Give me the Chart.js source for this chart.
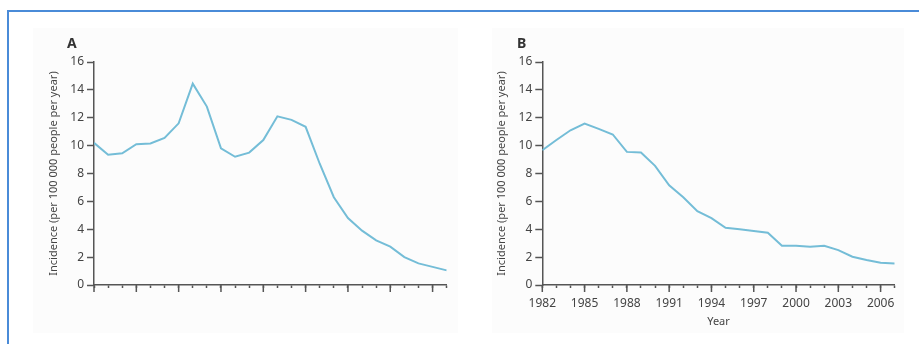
<!DOCTYPE html>
<html>
<head>
<meta charset="utf-8">
<script src="https://cdn.jsdelivr.net/npm/chart.js@4.4.1/dist/chart.umd.min.js"></script>
<style>
  body { margin: 0; background: #fff; width: 919px; height: 344px; overflow: hidden; position: relative; font-family: "Noto Sans", sans-serif; }
  .frame { position: absolute; left: 7px; top: 10px; width: 1000px; height: 400px; border-left: 2px solid #4a8bd8; border-top: 2px solid #4a8bd8; }
  .bg { position: absolute; top: 28px; height: 305px; background: #fcfcfc; }
  .wrap { position: absolute; top: 0; width: 460px; height: 344px; }
  .tag { position: absolute; top: 36px; font: bold 14px/14px "Noto Sans", sans-serif; color: #333; }
</style>
</head>
<body>
<div class="frame"></div>
<div class="bg" style="left:33px;width:425px"></div>
<div class="bg" style="left:492px;width:412px"></div>
<div class="wrap" style="left:0"><canvas id="chartA" width="460" height="344"></canvas></div>
<div class="wrap" style="left:459px"><canvas id="chartB" width="460" height="344"></canvas></div>
<span class="tag" style="left:67px">A</span>
<span class="tag" style="left:517px">B</span>
<script>
// years shared by both panels
const years = [1982, 1983, 1984, 1985, 1986, 1987, 1988, 1989, 1990, 1991, 1992, 1993, 1994,
  1995, 1996, 1997, 1998, 1999, 2000, 2001, 2002, 2003, 2004, 2005, 2006, 2007];

// panel A, incidence per 100 000 per year
const incidenceA = [10.2, 9.35, 9.45, 10.1, 10.15, 10.55, 11.6, 14.45, 12.8, 9.8, 9.2, 9.5, 10.4,
  12.1, 11.85, 11.35, 8.7, 6.3, 4.8, 3.9, 3.2, 2.75, 2.0, 1.55, 1.3, 1.05];

// panel B
const incidenceB = [9.67, 10.4, 11.1, 11.58, 11.2, 10.8, 9.55, 9.5, 8.55, 7.15, 6.3, 5.3, 4.8,
  4.1, 4.0, 3.87, 3.75, 2.82, 2.82, 2.75, 2.82, 2.5, 2.03, 1.8, 1.6, 1.55];

const yTicks = [0, 2, 4, 6, 8, 10, 12, 14, 16];
const yearLabels = [1982, 1985, 1988, 1991, 1994, 1997, 2000, 2003, 2006];

const yTitle = 'Incidence (per 100 000 people per year)';
const lineColor = '#74bdd7';
const axisColor = '#555';
const textColor = '#444';

// longer tick marks every third year
const majorTicks = {
  id: 'majorTicks',
  afterDraw(chart) {
    const x = chart.scales.x;
    const ctx = chart.ctx;
    const b = chart.chartArea.bottom;
    ctx.save();
    ctx.strokeStyle = axisColor;
    ctx.lineWidth = 1.5;
    yearLabels.forEach(yr => {
      const px = x.getPixelForValue(yr);
      ctx.beginPath();
      ctx.moveTo(px, b);
      ctx.lineTo(px, b + 7);
      ctx.stroke();
    });
    ctx.restore();
  }
};

function makeChart(id, values, showYears, axisLeft, plotRight) {
  const ctx = document.getElementById(id).getContext('2d');
  return new Chart(ctx, {
    type: 'line',
    data: {
      datasets: [{
        data: years.map((y, i) => ({ x: y, y: values[i] })),
        borderColor: lineColor,
        borderWidth: 2,
        pointRadius: 0,
        tension: 0,
        fill: false
      }]
    },
    options: {
      responsive: false,
      animation: false,
      layout: { padding: { left: 0, top: 62, right: 460 - plotRight, bottom: 0 } },
      plugins: { legend: { display: false }, tooltip: { enabled: false } },
      scales: {
        x: {
          type: 'linear',
          min: 1982,
          max: 2007,
          afterFit: s => { s.height = 59; },
          afterBuildTicks: s => { s.ticks = years.map(v => ({ value: v })); },
          border: { display: true, color: axisColor, width: 1.5 },
          grid: { drawOnChartArea: false, tickLength: 3, tickColor: axisColor, tickWidth: 1.5 },
          ticks: {
            autoSkip: false,
            maxRotation: 0,
            padding: 8,
            color: textColor,
            font: { family: 'Noto Sans', size: 12 },
            callback: v => (showYears && yearLabels.includes(v)) ? String(v) : ''
          },
          title: {
            display: showYears,
            text: 'Year',
            color: textColor,
            font: { family: 'Noto Sans', size: 11 },
            padding: { top: 0, bottom: 16 }
          }
        },
        y: {
          min: 0,
          max: 16,
          afterFit: s => { s.width = axisLeft; },
          afterBuildTicks: s => { s.ticks = yTicks.map(v => ({ value: v })); },
          border: { display: true, color: axisColor, width: 1.5 },
          grid: { drawOnChartArea: false, tickLength: 7, tickColor: axisColor, tickWidth: 1.5 },
          ticks: {
            padding: 3,
            color: textColor,
            font: { family: 'Noto Sans', size: 12 }
          },
          title: {
            display: true,
            text: yTitle,
            color: textColor,
            font: { family: 'Noto Sans', size: 11 },
            padding: { top: axisLeft - 47, bottom: 0 }
          }
        }
      }
    },
    plugins: [majorTicks]
  });
}

makeChart('chartA', incidenceA, false, 94, 446.7);
makeChart('chartB', incidenceB, true, 83.3, 435.7);
</script>
</body>
</html>
